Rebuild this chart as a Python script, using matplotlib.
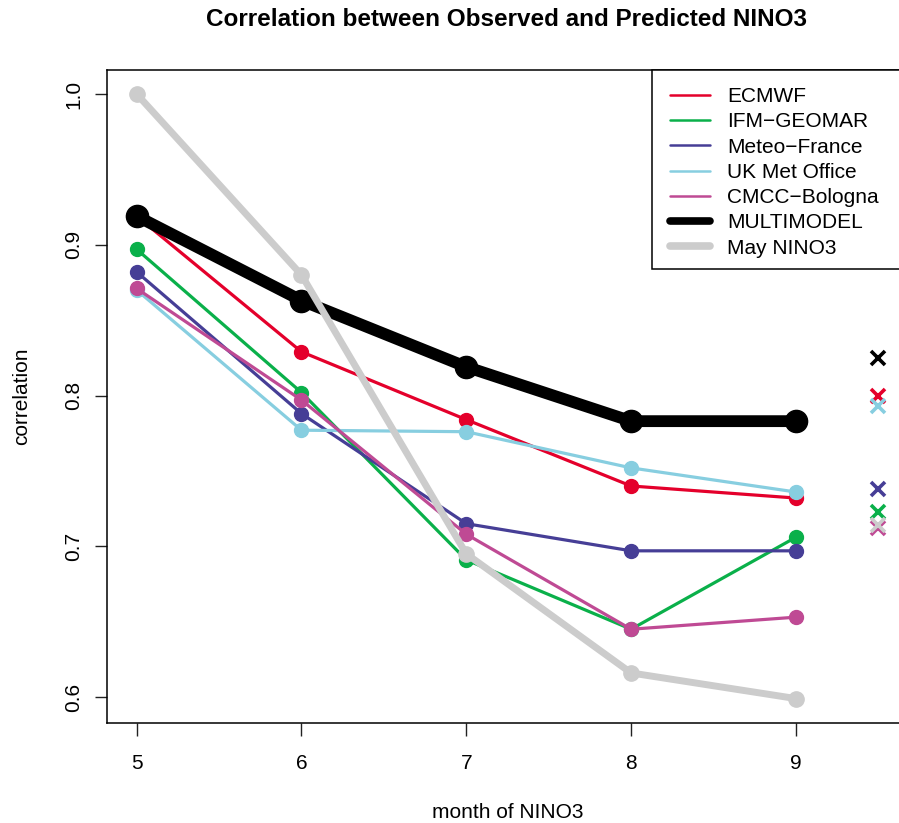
import numpy as np
import matplotlib.pyplot as plt
from matplotlib.lines import Line2D
from matplotlib.patches import Rectangle

plt.rcParams['font.family'] = ['Liberation Sans', 'DejaVu Sans']

# ===== Data =====
months = np.array([5, 6, 7, 8, 9])
models = ["ECMWF", "IFM\u2212GEOMAR", "Meteo\u2212France", "UK Met Office",
          "CMCC\u2212Bologna", "MULTIMODEL", "May NINO3"]
colors = ["#E4002B", "#0AB04A", "#463E96", "#87CEE0", "#BF4A94", "#000000", "#CCCCCC"]

ecmwf = [0.919, 0.829, 0.784, 0.740, 0.732]
ifm = [0.897, 0.802, 0.691, 0.645, 0.706]
meteo = [0.882, 0.788, 0.715, 0.697, 0.697]
ukmo = [0.870, 0.777, 0.776, 0.752, 0.736]
cmcc = [0.871, 0.797, 0.708, 0.645, 0.653]
multi = [0.919, 0.863, 0.819, 0.783, 0.783]
may = [1.000, 0.880, 0.695, 0.616, 0.599]

# single values shown as crosses at x = 9.5
cross_x = 9.5
cross_vals = [0.800, 0.723, 0.738, 0.793, 0.712, 0.825, 0.714]

series = [ecmwf, ifm, meteo, ukmo, cmcc, multi, may]
lws = [2.3, 2.3, 2.3, 2.3, 2.3, 8.5, 5.0]
mss = [10, 10, 10, 10, 10, 16, 11]
leg_lws = [1.8, 1.8, 1.8, 1.8, 1.8, 5.5, 5.5]

# ===== Figure =====
fig = plt.figure(figsize=(8.99, 8.23), dpi=100)
ax = fig.add_axes([0.119, 0.1215, 0.891, 0.794])

for vals, c, lw, ms in zip(series, colors, lws, mss):
    ax.plot(months, vals, color=c, lw=lw, marker='o', ms=ms, mec=c, mfc=c,
            solid_capstyle='butt', zorder=3)

for v, c in zip(cross_vals, colors):
    ax.plot(cross_x, v, marker='x', ms=9.5, mew=2.6, color=c, ls='none', zorder=4)

ax.set_xlim(4.82, 9.68)
ax.set_ylim(0.5828, 1.0162)
ax.set_xticks([5, 6, 7, 8, 9])
ax.set_yticks([0.6, 0.7, 0.8, 0.9, 1.0])
ax.set_yticklabels(["0.6", "0.7", "0.8", "0.9", "1.0"], rotation=90, va='center')
ax.tick_params(direction='out', length=9, width=1, labelsize=15, colors='#222222',
               labelcolor='black')
ax.tick_params(axis='x', pad=13)
ax.tick_params(axis='y', pad=8)
for s in ax.spines.values():
    s.set_linewidth(1.1)

ax.set_xlabel("month of NINO3", fontsize=15, labelpad=22)
ax.set_ylabel("correlation", fontsize=15, labelpad=24)
fig.text(0.5634, 0.976, "Correlation between Observed and Predicted NINO3",
         ha='center', va='center', fontsize=17.5, fontweight='bold')

# ===== Legend =====
# frame runs off the right edge of the figure, as in the original
ax.add_patch(Rectangle((0.6804, 0.6947), 0.4, 0.3053, transform=ax.transAxes,
                       facecolor='white', edgecolor='black', lw=1.1,
                       clip_on=False, zorder=5))
handles = [Line2D([], [], color=c, lw=lw, solid_capstyle='round')
           for c, lw in zip(colors, leg_lws)]
leg = ax.legend(handles, models, loc='upper left', bbox_to_anchor=(0.6834, 0.997),
                borderaxespad=0, frameon=False,
                fontsize=15, handlelength=1.9, handletextpad=0.85,
                labelspacing=0.3, borderpad=0.75)
leg.set_zorder(6)

fig.savefig("out.png", dpi=100)
